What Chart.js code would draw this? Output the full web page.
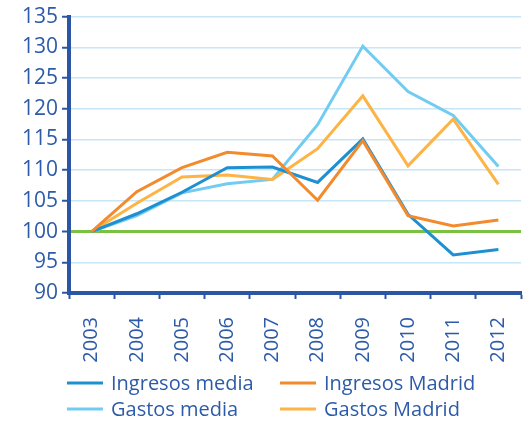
<!DOCTYPE html>
<html>
<head>
<meta charset="utf-8">
<script src="https://cdn.jsdelivr.net/npm/chart.js@4/dist/chart.umd.min.js"></script>
<style>
  html, body { margin: 0; padding: 0; background: #fff; }
  #wrap { width: 527px; height: 425px; position: relative; }
</style>
</head>
<body>
<div id="wrap"><canvas id="chart"></canvas></div>
<script>
const years = ['2003', '2004', '2005', '2006', '2007', '2008', '2009', '2010', '2011', '2012']
const ingresosMedia = [100, 102.9, 106.4, 110.4, 110.5, 108.0, 115.1, 102.8, 96.2, 97.1]
const ingresosMadrid = [100, 106.5, 110.4, 112.9, 112.3, 105.1, 114.8, 102.6, 100.9, 101.9]
const gastosMedia = [100, 102.6, 106.3, 107.8, 108.5, 117.4, 130.2, 122.8, 118.9, 110.6]
const gastosMadrid = [100, 104.6, 108.9, 109.2, 108.5, 113.5, 122.1, 110.7, 118.3, 107.7]
const yTicks = [90, 95, 100, 105, 110, 115, 120, 125, 130, 135]

const NAVY = '#2a56a5'
const TEXT = '#2d5ba8'
const GRID = '#c8e6f6'
const BASE = '#7cc242'
const FONT = "'Open Sans', sans-serif"

// Series in legend order: row by row, two columns
const series = [
    { label: 'Ingresos media', data: ingresosMedia, color: '#1e90d2', order: 1 },
    { label: 'Ingresos Madrid', data: ingresosMadrid, color: '#f28a2e', order: 0 },
    { label: 'Gastos media', data: gastosMedia, color: '#72ccf1', order: 3 },
    { label: 'Gastos Madrid', data: gastosMadrid, color: '#fdb444', order: 2 }
]

// Two-column legend under the axis labels
const gridLegend = {
    id: 'gridLegend',
    afterDraw(chart) {
        const { ctx } = chart
        const cols = [67, 280]
        const rows = [383, 409]
        ctx.save()
        ctx.font = `20px ${FONT}`
        ctx.textBaseline = 'middle'
        chart.data.datasets.forEach((ds, i) => {
            const x = cols[i % 2]
            const y = rows[Math.floor(i / 2)]
            ctx.strokeStyle = ds.borderColor
            ctx.lineWidth = 3
            ctx.beginPath()
            ctx.moveTo(x, y)
            ctx.lineTo(x + 36, y)
            ctx.stroke()
            ctx.fillStyle = TEXT
            ctx.fillText(ds.label, x + 44, y + 1)
        })
        ctx.restore()
    }
}

new Chart(document.getElementById('chart'), {
    type: 'line',
    data: {
        labels: years,
        datasets: series.map(s => ({
            label: s.label,
            data: s.data,
            borderColor: s.color,
            backgroundColor: s.color,
            borderWidth: 3,
            pointRadius: 0,
            tension: 0,
            order: s.order
        }))
    },
    options: {
        responsive: true,
        maintainAspectRatio: false,
        animation: false,
        layout: { padding: { left: 18, right: 6, top: 4, bottom: 62 } },
        plugins: {
            legend: { display: false },
            tooltip: { enabled: false }
        },
        scales: {
            x: {
                offset: true,
                afterFit: (scale) => {
                    scale.height = 70
                    scale.paddingLeft = 0
                    scale.paddingRight = 0
                },
                grid: {
                    offset: true,
                    drawOnChartArea: false,
                    tickColor: NAVY,
                    tickLength: 6,
                    tickWidth: 2
                },
                border: { color: NAVY, width: 4 },
                ticks: {
                    color: TEXT,
                    font: { family: FONT, size: 20 },
                    minRotation: 90,
                    maxRotation: 90,
                    padding: 18
                }
            },
            y: {
                min: yTicks[0],
                max: yTicks[yTicks.length - 1],
                afterBuildTicks: (scale) => { scale.ticks = yTicks.map(v => ({ value: v })) },
                grid: {
                    color: (c) => c.tick && c.tick.value === 100 ? BASE : GRID,
                    lineWidth: (c) => c.tick && c.tick.value === 100 ? 3 : 1.5,
                    tickColor: NAVY,
                    tickLength: 7,
                    tickWidth: 2
                },
                border: { color: NAVY, width: 4 },
                ticks: {
                    color: TEXT,
                    font: { family: FONT, size: 21 },
                    padding: 4
                }
            }
        }
    },
    plugins: [gridLegend]
})
</script>
</body>
</html>
